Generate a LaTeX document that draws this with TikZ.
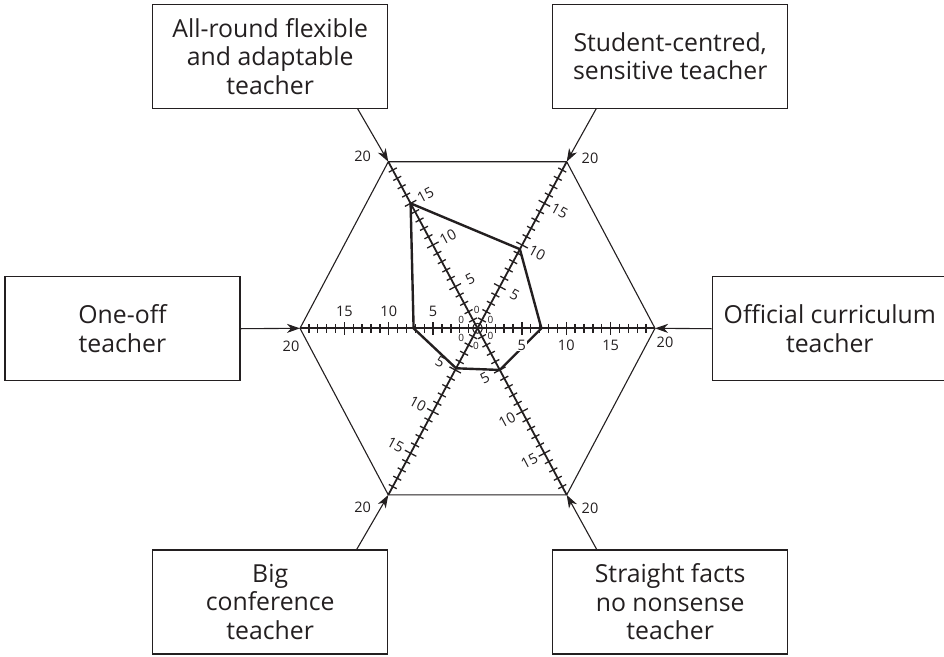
\documentclass[tikz,border=0pt]{standalone}
\usepackage{fontspec}
\setmainfont{Open Sans}
\usetikzlibrary{calc,arrows.meta}
\definecolor{ink}{HTML}{231F20}
\begin{document}
\begin{tikzpicture}[x=1pt,y=-1pt,
  box/.style={draw=ink,line width=1.2pt,minimum width=235pt,minimum height=104pt,align=center,
    font=\fontsize{24.8}{28.5}\selectfont,text=ink,inner sep=0pt},
  axisline/.style={line width=1.8pt,draw=ink},
  tickmark/.style={line width=1.3pt,draw=ink},
  hexline/.style={line width=1.1pt,draw=ink},
  profile/.style={line width=2.4pt,draw=ink,line join=miter},
  arr/.style={line width=1.1pt,draw=ink,-{Stealth[length=13pt,width=9pt,inset=4pt]}},
  endlab/.style={font=\fontsize{14.5}{16}\selectfont,text=ink,inner sep=0pt},
  axlab/.style={font=\fontsize{14.5}{16}\selectfont,text=ink,inner sep=0.5pt},
  zerolab/.style={font=\fontsize{10}{11}\selectfont,text=ink,inner sep=0pt}]
\useasboundingbox (0,0) rectangle (944,656);

% boxes
\node[box] (tlbox) at (270.2,56.3) {All-round flexible\\and adaptable\\teacher};
\node[box] (trbox) at (670.2,56.3) {Student-centred,\\sensitive teacher};
\node[box] (lbox) at (122.5,328.7) {One-off\\teacher};
\node[box] (rbox) at (829.8,328.7) {Official curriculum\\teacher};
\node[box] (blbox) at (270.2,602) {Big\\conference\\teacher};
\node[box] (brbox) at (670.2,602) {Straight facts\\no nonsense\\teacher};

% geometry
\coordinate (C) at (477.5,328.3);
\coordinate (R) at (655,328.3);
\coordinate (L) at (300,328.3);
\coordinate (TL) at (388.3,161.7);
\coordinate (TR) at (566.7,161.7);
\coordinate (BL) at (388.3,494.9);
\coordinate (BR) at (566.7,494.9);

\draw[hexline] (R) -- (TR) -- (TL) -- (L) -- (BL) -- (BR) -- cycle;
\draw[axisline] (L) -- (R);
\draw[axisline] (TL) -- (BR);
\draw[axisline] (TR) -- (BL);

% ticks
\foreach \v in {R,TR,TL,L,BL,BR}{
  \foreach \i in {1,...,19}{
    \pgfmathsetmacro\len{ifthenelse(mod(\i,5)==0,6.5,4.5)}
    \pgfmathsetmacro\f{\i/20}
    \draw[tickmark] ($(C)!\f!(\v)!\len pt!90:(\v)$) -- ($(C)!\f!(\v)!\len pt!-90:(\v)$);
  }
}
\draw[line width=1pt,draw=ink] (C) circle[radius=5];

% profile
\draw[profile] ($(C)!0.75!(TL)$) -- ($(C)!0.475!(TR)$) -- ($(C)!0.36!(R)$)
  -- ($(C)!0.25!(BR)$) -- ($(C)!0.24!(BL)$) -- ($(C)!0.36!(L)$) -- cycle;

% axis labels
\foreach \v/\rot in {L/0,TL/28,TR/-28,BL/-28,BR/28}{
  \foreach \k in {5,10,15}{
    \pgfmathsetmacro\f{\k/20}
    \node[axlab,rotate=\rot] at ($(C)!\f!(\v)!17pt!-90:(\v)$) {\k};
  }
}
\node[axlab,fill=white] (r5) at ($(C)!0.25!(R)!17pt!-90:(R)$) {5};
\node[axlab] (r10) at ($(C)!0.5!(R)!17pt!-90:(R)$) {10};
\node[axlab] (r15) at ($(C)!0.75!(R)!17pt!-90:(R)$) {15};

% zeros
\node[zerolab] (z1) at (476.7,310) {0};
\node[zerolab] (z2) at (461.2,320) {0};
\node[zerolab] (z3) at (490.5,320) {0};
\node[zerolab] (z4) at (461.2,337.7) {0};
\node[zerolab] (z5) at (490.5,336) {0};
\node[zerolab] (z6) at (476,346.2) {0};

% end labels
\node[endlab] (e1) at (362.7,156.7) {20};
\node[endlab] (e2) at (590,158) {20};
\node[endlab] (e3) at (665,342.7) {20};
\node[endlab] (e4) at (291,346.7) {20};
\node[endlab] (e5) at (362.7,507.7) {20};
\node[endlab] (e6) at (590,508.3) {20};

% arrows
\draw[arr] ($(tlbox.south west)+(205.6,0)$) -- (TL);
\draw[arr] ($(trbox.south west)+(44,0)$) -- (TR);
\draw[arr] (lbox.east) -- (L);
\draw[arr] (rbox.west) -- (R);
\draw[arr] ($(blbox.north west)+(204.6,0)$) -- (BL);
\draw[arr] ($(brbox.north west)+(44.6,0)$) -- (BR);
\end{tikzpicture}
\end{document}
